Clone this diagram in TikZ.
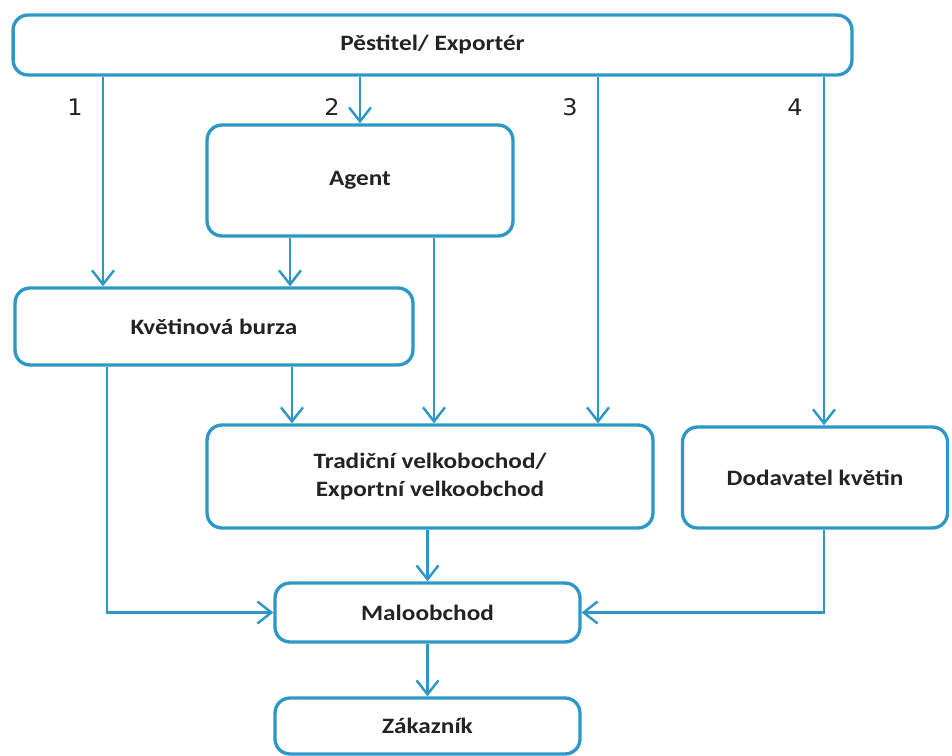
\documentclass[tikz,border=0pt]{standalone}
\usepackage{fontspec}
\setmainfont{Carlito}[FakeStretch=1.15]
\newfontfamily\numfont{DejaVu Sans}[FakeStretch=1.05]
\usetikzlibrary{arrows.meta,positioning}
\definecolor{flowblue}{RGB}{45,152,200}
\definecolor{flowtext}{RGB}{35,35,35}
\begin{document}
\begin{tikzpicture}[x=0.02cm,y=-0.02cm,font=\bfseries\fontsize{12.5}{15.5}\selectfont,text=flowtext]
\tikzstyle{block} = [rectangle, draw=flowblue, line width=1.9pt, rounded corners=0.3cm, align=center, inner sep=0pt]
\tikzstyle{arrow} = [-{Straight Barb[length=2.8mm,width=4.4mm]}, draw=flowblue, line width=1.4pt]
\tikzstyle{num} = [font=\numfont\fontsize{13}{15}\selectfont]
\useasboundingbox (0,0) rectangle (952,756);
\node[block, minimum width=16.78cm, minimum height=1.2cm] (grower) at (432.5,45) {P\v{e}stitel/ Export\'er};
\node[block, minimum width=6.12cm, minimum height=2.22cm] (agent) at (360,180.5) {Agent};
\node[block, minimum width=7.96cm, minimum height=1.54cm] (burza) at (214,326.5) {Kv\v{e}tinov\'a burza};
\node[block, minimum width=8.92cm, minimum height=2.06cm] (velko) at (430,476.5) {Tradi\v{c}n\'i velkobochod/\\Exportn\'i velkoobchod};
\node[block, minimum width=5.3cm, minimum height=2.02cm] (dodavatel) at (815,477.5) {Dodavatel kv\v{e}tin};
\node[block, minimum width=6.1cm, minimum height=1.18cm] (malo) at (427.5,612.5) {Maloobchod};
\node[block, minimum width=6.1cm, minimum height=1.12cm] (zakaznik) at (427.5,726) {Z\'akazn\'ik};
\coordinate (r1) at (103,0);
\coordinate (r3) at (598,0);
\coordinate (r4) at (824,0);
\coordinate (ag1) at (290,0);
\coordinate (ag2) at (434,0);
\coordinate (bu1) at (107,0);
\coordinate (bu2) at (292,0);
\node[num] (n1) at (75,107) {1};
\node[num] (n2) at (332,107) {2};
\node[num] (n3) at (570,107) {3};
\node[num] (n4) at (795,107) {4};
\draw[arrow] (grower.south -| r1) -- (burza.north -| r1);
\draw[arrow] (grower.south -| agent.north) -- (agent.north);
\draw[arrow] (grower.south -| r3) -- (velko.north -| r3);
\draw[arrow] (grower.south -| r4) -- (dodavatel.north -| r4);
\draw[arrow] (agent.south -| ag1) -- (burza.north -| ag1);
\draw[arrow] (agent.south -| ag2) -- (velko.north -| ag2);
\draw[arrow] (burza.south -| bu2) -- (velko.north -| bu2);
\draw[arrow] (burza.south -| bu1) |- (malo.west);
\draw[arrow] (dodavatel.south -| r4) |- (malo.east);
\draw[arrow] (velko.south -| malo.north) -- (malo.north);
\draw[arrow] (malo) -- (zakaznik);
\end{tikzpicture}
\end{document}
